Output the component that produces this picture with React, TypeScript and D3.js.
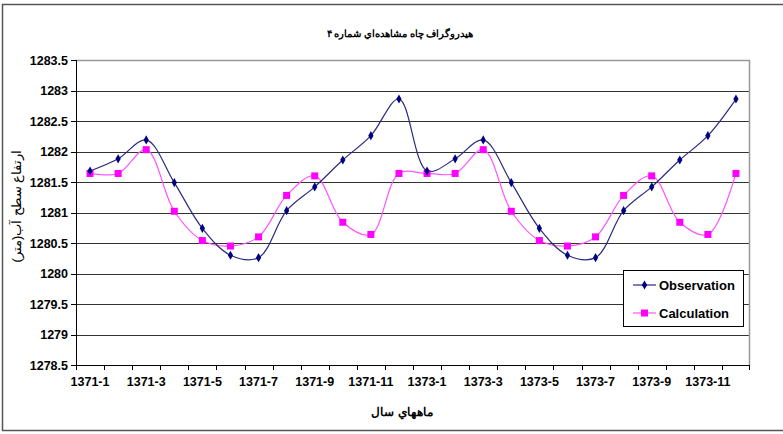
import React from 'react';
import * as d3 from 'd3';

// months of the two years shown
const months = [
  '1371-1', '1371-2', '1371-3', '1371-4', '1371-5', '1371-6', '1371-7', '1371-8', '1371-9', '1371-10', '1371-11', '1371-12',
  '1373-1', '1373-2', '1373-3', '1373-4', '1373-5', '1373-6', '1373-7', '1373-8', '1373-9', '1373-10', '1373-11', '1373-12',
];

const observation = [
  1281.68, 1281.88, 1282.19, 1281.49, 1280.74, 1280.30, 1280.26, 1281.03, 1281.42, 1281.86, 1282.26, 1282.86,
  1281.68, 1281.88, 1282.19, 1281.49, 1280.74, 1280.30, 1280.26, 1281.03, 1281.42, 1281.86, 1282.26, 1282.86,
];

const calculation = [
  1281.64, 1281.64, 1282.03, 1281.02, 1280.54, 1280.45, 1280.60, 1281.28, 1281.60, 1280.84, 1280.64, 1281.64,
  1281.64, 1281.64, 1282.03, 1281.02, 1280.54, 1280.45, 1280.60, 1281.28, 1281.60, 1280.84, 1280.64, 1281.64,
];

const yTicks = [1278.5, 1279, 1279.5, 1280, 1280.5, 1281, 1281.5, 1282, 1282.5, 1283, 1283.5];

const title = 'هيدروگراف چاه مشاهده‌اي شماره ۴';
const xTitle = 'ماههاي سال';
const yTitle = 'ارتفاع سطح آب(متر)';

const FONT = "'Liberation Sans', Arial, sans-serif";

const App = () => {
  const width = 783;
  const height = 434;
  const left = 76;
  const right = 750;
  const top = 60;
  const bottom = 365;

  const x = d3.scaleBand().domain(months).range([left, right]);
  const y = d3.scaleLinear().domain([1278.5, 1283.5]).range([bottom, top]);
  const cx = (i) => x(months[i]) + x.bandwidth() / 2;

  const line = d3.line()
    .x((d, i) => cx(i))
    .y(d => y(d))
    .curve(d3.curveCatmullRom.alpha(0.5));

  const diamond = d3.symbol().type(d3.symbolDiamond).size(24)();

  return (
    <svg width={width} height={height} style={{ position: 'absolute', left: 0, top: 0, display: 'block' }}>
      <rect x={0} y={0} width={width} height={height} fill="#fff" />
      <rect x={2.5} y={4.5} width={800} height={426} fill="none" stroke="#555" strokeWidth={1.5} />

      <text x={400} y={37} textAnchor="middle" fontFamily={FONT} fontSize={9.5} fontWeight="bold" direction="rtl">{title}</text>

      {/* gridlines */}
      {yTicks.map(t => (
        <line key={t} x1={left} x2={right} y1={Math.round(y(t)) + 0.5} y2={Math.round(y(t)) + 0.5} stroke="#333" strokeWidth={1} />
      ))}
      <line x1={right - 0.5} x2={right - 0.5} y1={top} y2={bottom} stroke="#999" strokeWidth={1.5} />
      <line x1={left} x2={right} y1={top + 0.5} y2={top + 0.5} stroke="#999" strokeWidth={1.5} />

      {/* y axis */}
      <line x1={left + 0.5} x2={left + 0.5} y1={top} y2={bottom} stroke="#000" />
      {yTicks.map(t => (
        <g key={'yt' + t}>
          <line x1={left - 5} x2={left} y1={Math.round(y(t)) + 0.5} y2={Math.round(y(t)) + 0.5} stroke="#000" />
          <text x={left - 8} y={y(t) + 4.5} textAnchor="end" fontFamily={FONT} fontSize={12.5} fontWeight="bold">{t}</text>
        </g>
      ))}

      {/* x axis */}
      <line x1={left} x2={right} y1={bottom + 0.5} y2={bottom + 0.5} stroke="#000" />
      {months.map((m, i) => (
        <line key={'xt' + m} x1={Math.round(x(m)) + 0.5} x2={Math.round(x(m)) + 0.5} y1={bottom} y2={bottom + 5} stroke="#000" />
      ))}
      <line x1={right - 0.5} x2={right - 0.5} y1={bottom} y2={bottom + 5} stroke="#000" />
      {months.map((m, i) => (i % 2 === 0 ? (
        <text key={'xl' + m} x={cx(i)} y={386} textAnchor="middle" fontFamily={FONT} fontSize={12.5} fontWeight="bold">{m}</text>
      ) : null))}

      <text x={402} y={416} textAnchor="middle" fontFamily={FONT} fontSize={11.5} fontWeight="bold" direction="rtl">{xTitle}</text>
      <text transform={`translate(21, 206) rotate(-90)`} textAnchor="middle" fontFamily={FONT} fontSize={13} direction="rtl">{yTitle}</text>

      {/* series */}
      <path d={line(calculation)} fill="none" stroke="#ff55ff" strokeWidth={1.2} />
      <path d={line(observation)} fill="none" stroke="#2a2a80" strokeWidth={1.2} />
      {calculation.map((v, i) => (
        <rect key={'c' + i} x={cx(i) - 3.5} y={y(v) - 3.5} width={7} height={7} fill="#ff00ff" />
      ))}
      {observation.map((v, i) => (
        <path key={'o' + i} d={diamond} transform={`translate(${cx(i)},${y(v)})`} fill="#000080" />
      ))}

      {/* legend */}
      <rect x={623.5} y={270.5} width={120} height={56} fill="#fff" stroke="#000" />
      <line x1={633} x2={656} y1={285} y2={285} stroke="#2a2a80" strokeWidth={1.2} />
      <path d={diamond} transform="translate(644.5,285)" fill="#000080" />
      <text x={659} y={289.5} fontFamily={FONT} fontSize={13} fontWeight="bold">Observation</text>
      <line x1={633} x2={656} y1={313} y2={313} stroke="#ff55ff" strokeWidth={1.2} />
      <rect x={641} y={309.5} width={7} height={7} fill="#ff00ff" />
      <text x={659} y={317.5} fontFamily={FONT} fontSize={13} fontWeight="bold">Calculation</text>
    </svg>
  );
};

export default App;
